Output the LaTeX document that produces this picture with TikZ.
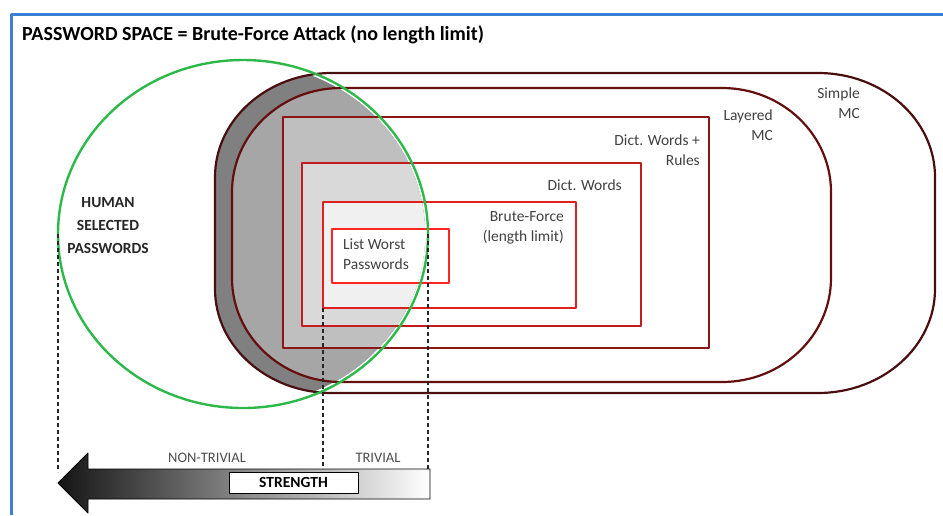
\documentclass[tikz,border=0pt]{standalone}
\usepackage{fontspec}
\setmainfont{Carlito}
\usetikzlibrary{shapes.geometric}
\definecolor{framebl}{RGB}{59,127,214}
\definecolor{humangr}{RGB}{45,184,74}
\definecolor{mcone}{RGB}{74,14,14}
\definecolor{mctwo}{RGB}{100,14,14}
\definecolor{rulesred}{RGB}{140,22,22}
\definecolor{dictred}{RGB}{196,28,28}
\definecolor{bfred}{RGB}{222,32,32}
\definecolor{listred}{RGB}{255,36,36}
\definecolor{labelgr}{RGB}{64,64,64}
\definecolor{shadeA}{RGB}{128,128,128}
\definecolor{shadeB}{RGB}{166,166,166}
\definecolor{shadeC}{RGB}{191,191,191}
\definecolor{shadeD}{RGB}{217,217,217}
\definecolor{shadeE}{RGB}{240,240,240}
\begin{document}
\begin{tikzpicture}[x=1pt,y=-1pt,line join=round,
  box/.style={inner sep=0pt,outer sep=0pt},
  % oval track: left, top, right, bottom, corner x radius, corner y radius
  track/.style n args={6}{insert path={
    (#1+#5,#2) -- (#3-#5,#2)
    arc[start angle=90,end angle=0,x radius=#5pt,y radius=#6pt]
    -- (#3,#4-#6)
    arc[start angle=0,end angle=-90,x radius=#5pt,y radius=#6pt]
    -- (#1+#5,#4)
    arc[start angle=270,end angle=180,x radius=#5pt,y radius=#6pt]
    -- (#1,#2+#6)
    arc[start angle=180,end angle=90,x radius=#5pt,y radius=#6pt]
    -- cycle}},
  simplemc/.style={track={215}{73}{935}{393}{117}{104}},
  layeredmc/.style={track={232}{88}{831}{382}{109}{104}},
  rulesbox/.style={box,minimum width=426,minimum height=231},
  dictbox/.style={box,minimum width=339,minimum height=163},
  bfbox/.style={box,minimum width=253,minimum height=106},
  listbox/.style={box,minimum width=117,minimum height=54},
  lbl/.style={text=labelgr,font=\fontsize{15.5}{20}\selectfont,inner sep=0pt},
  dashline/.style={black!85,line width=1.3pt,dash pattern=on 4pt off 3pt},
  scale lbl/.style={text=black!70,font=\fontsize{14.5}{16}\selectfont,inner sep=0pt}]
\useasboundingbox (0,0) rectangle (943,515);

% centres of the nested attack spaces
\coordinate (cRules) at (496,232.5);
\coordinate (cDict) at (471.5,244.5);
\coordinate (cBF) at (449.5,255);
\coordinate (cList) at (390.5,256);
\coordinate (cHuman) at (243,234);

% grey levels where human-selected passwords fall in each space
\begin{scope}
  \clip (cHuman) ellipse [x radius=182, y radius=171];
  \path[fill=shadeA,simplemc];
  \path[fill=shadeB,layeredmc];
  \node[rulesbox,fill=shadeC] at (cRules) {};
  \node[dictbox,fill=shadeD] at (cDict) {};
  \node[bfbox,fill=shadeE] at (cBF) {};
  \node[listbox,fill=white] at (cList) {};
\end{scope}

% outlines
\path[draw=mcone,line width=2.2pt,simplemc];
\path[draw=mctwo,line width=2.2pt,layeredmc];
\node[rulesbox,draw=rulesred,line width=2.2pt] (rules) at (cRules) {};
\node[dictbox,draw=dictred,line width=2.2pt] (dict) at (cDict) {};
\node[bfbox,draw=bfred,line width=2pt] (bf) at (cBF) {};
\node[listbox,draw=listred,line width=2pt] (list) at (cList) {};
\node[ellipse,box,minimum width=370,minimum height=348,draw=humangr,line width=2.4pt] (human) at (cHuman) {};

% frame and title
\draw[framebl,line width=3pt] (11,515) -- (11,14) -- (943,14);
\node[anchor=west,inner sep=0pt,font=\fontsize{20}{23}\selectfont\bfseries] (title) at (22,35)
  {PASSWORD SPACE = Brute-Force Attack (no length limit)};

% labels
\node[lbl,align=right,anchor=east] (lsimple) at (860,103) {Simple\\MC};
\node[lbl,align=right,anchor=east] (llayered) at (773,125) {Layered\\MC};
\node[lbl,align=right,anchor=east] (lrules) at (700,150) {Dict. Words +\\Rules};
\node[lbl,align=right,anchor=east] (ldict) at (622,185) {Dict. Words};
\node[lbl,align=right,anchor=east] (lbf) at (564,228) {Brute-Force\\(length limit)};
\node[lbl,align=left,anchor=west] (llist) at (343,254) {List Worst\\Passwords};
\node[inner sep=0pt,align=center,text=black!85,
  font=\fontsize{15.5}{23}\selectfont\bfseries] (lhuman) at (108,226)
  {HUMAN\\SELECTED\\PASSWORDS};

% strength arrow
\coordinate (tip) at (58,483);
\coordinate (shaftTL) at (88,469);
\coordinate (shaftTR) at (430,469);
\shade[left color=black!92,right color=white,draw=black,line width=0.8pt]
  (tip) -- (88,453) -- (shaftTL) -- (shaftTR) -- (430,499) -- (88,499) -- (88,513) -- cycle;
\node[box,minimum width=129,minimum height=21,fill=white,draw=black,line width=0.8pt,
  font=\fontsize{15.5}{18}\selectfont\bfseries] (strength) at (293.5,482.5) {STRENGTH};
\node[scale lbl] (nontrivial) at (207,458) {NON-TRIVIAL};
\node[scale lbl] (trivial) at (378,458) {TRIVIAL};

% guide lines down to the scale
\coordinate (tipTop) at (58,472);
\draw[dashline] (human.west) -- (tipTop);
\draw[dashline] (bf.south west) -- (bf.south west |- shaftTL);
\draw[dashline] (human.east) -- (human.east |- shaftTR);
\end{tikzpicture}
\end{document}
